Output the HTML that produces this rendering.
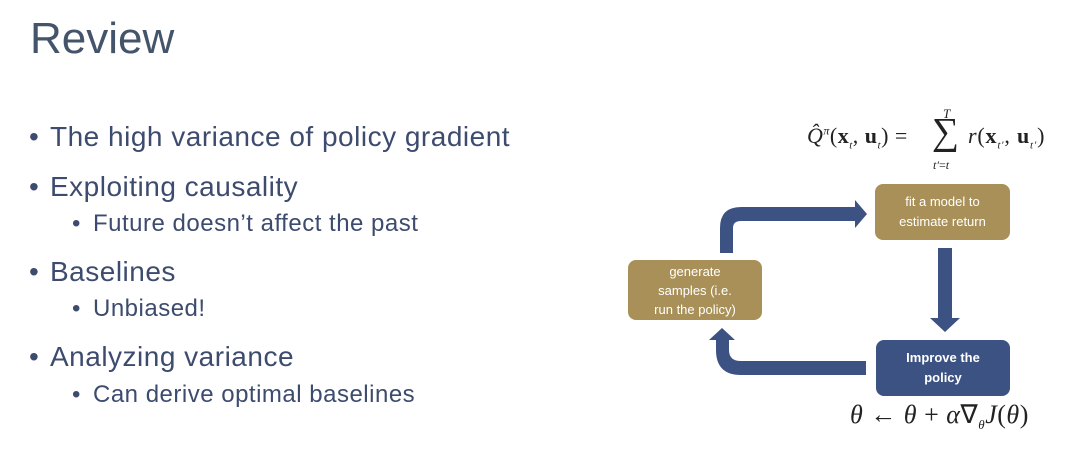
<!DOCTYPE html>
<html><head><meta charset="utf-8"><style>
body{margin:0;width:1080px;height:449px;background:#fff;position:relative;overflow:hidden;font-family:"Liberation Sans",sans-serif}
.t{position:absolute;color:#3d4b6e;white-space:nowrap}
.L{font-size:28px;letter-spacing:0.5px}
.S{font-size:24px;letter-spacing:0.5px}
.b{position:absolute;border-radius:8px;color:#fff;text-align:center;font-size:13px;line-height:20px;display:flex;align-items:center;justify-content:center}
.m{position:absolute;font-family:"Liberation Serif",serif;color:#222;white-space:nowrap}
</style></head><body>
<div class="t" style="left:30px;top:14px;font-size:44px;color:#44546a">Review</div>
<div class="t L" style="left:29px;top:121px">•</div><div class="t L" style="left:50px;top:121px">The high variance of policy gradient</div>
<div class="t L" style="left:29px;top:171px">•</div><div class="t L" style="left:50px;top:171px">Exploiting causality</div>
<div class="t S" style="left:72px;top:210px">•</div><div class="t S" style="left:93px;top:210px">Future doesn’t affect the past</div>
<div class="t L" style="left:29px;top:256px">•</div><div class="t L" style="left:50px;top:256px">Baselines</div>
<div class="t S" style="left:72px;top:295px">•</div><div class="t S" style="left:93px;top:295px">Unbiased!</div>
<div class="t L" style="left:29px;top:341px">•</div><div class="t L" style="left:50px;top:341px">Analyzing variance</div>
<div class="t S" style="left:72px;top:381px">•</div><div class="t S" style="left:93px;top:381px">Can derive optimal baselines</div>

<svg style="position:absolute;left:0;top:0" width="1080" height="449">
<g fill="#3c5283">
<path d="M720 253 V228 Q720 207 741 207 H855 V200 L867 214 L855 228 V221 H741 Q733 221 733 228 V253 Z"/>
<path d="M938 248 H952 V318 H960 L945 332 L930 318 H938 Z"/>
<path d="M866 361 V375 H741 Q716 375 716 350 V340 H709 L722 328 L735 340 H729 V350 Q729 361 741 361 Z"/>
</g>
</svg>
<div class="b" style="left:875px;top:184px;width:135px;height:56px;background:#a99058">fit a model to<br>estimate return</div>
<div class="b" style="left:628px;top:260px;width:134px;height:60px;background:#a99058;line-height:19px">generate<br>samples (i.e.<br>run the policy)</div>
<div class="b" style="left:876px;top:340px;width:134px;height:56px;background:#3c5283;font-weight:bold">Improve the<br>policy</div>

<div class="m" style="left:807px;top:123px;font-size:22px;letter-spacing:0.5px"><i>Q̂</i><sup style="font-size:12px"><i>π</i></sup>(<b>x</b><sub style="font-size:11px"><i>t</i></sub>, <b>u</b><sub style="font-size:11px"><i>t</i></sub>) =</div>
<div class="m" style="left:932px;top:110px;font-size:38px">∑</div>
<div class="m" style="left:943px;top:106px;font-size:13px"><i>T</i></div>
<div class="m" style="left:933px;top:158px;font-size:12px"><i>t′</i>=<i>t</i></div>
<div class="m" style="left:968px;top:123px;font-size:22px;letter-spacing:0.8px"><i>r</i>(<b>x</b><sub style="font-size:11px"><i>t′</i></sub>, <b>u</b><sub style="font-size:11px"><i>t′</i></sub>)</div>
<div class="m" style="left:850px;top:400px;font-size:26px;letter-spacing:0.5px"><i>θ</i> ← <i>θ</i> + <i>α</i>∇<sub style="font-size:13px"><i>θ</i></sub><i>J</i>(<i>θ</i>)</div>
</body></html>
